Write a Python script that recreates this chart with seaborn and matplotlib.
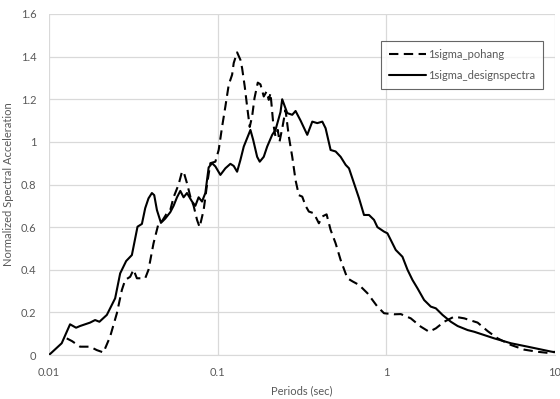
import matplotlib
matplotlib.use("Agg")
import matplotlib.pyplot as plt
import seaborn as sns
import pandas as pd
from matplotlib.ticker import FixedLocator, FixedFormatter, NullLocator

# ---- data ----
design_period = [0.0100, 0.01189, 0.01333, 0.01447, 0.01528, 0.01752, 0.01876, 0.0199,
                 0.02202, 0.02467, 0.02642, 0.02868, 0.0310, 0.03348, 0.03555, 0.03719,
                 0.0389, 0.04075, 0.04206, 0.04364, 0.0461, 0.04889, 0.05236, 0.05478,
                 0.0574, 0.06005, 0.06281, 0.06578, 0.07047, 0.07372, 0.0771, 0.08077,
                 0.08452, 0.08842, 0.09262, 0.09689, 0.1038, 0.1111, 0.119, 0.1245,
                 0.1304, 0.1364, 0.1428, 0.1564, 0.1623, 0.1714, 0.1776, 0.1876, 0.1966,
                 0.2105, 0.2202, 0.2358, 0.2413, 0.2585, 0.2768, 0.2896, 0.3101, 0.3398,
                 0.3639, 0.3896, 0.4173, 0.4364, 0.4673, 0.5004, 0.5358, 0.574, 0.6005,
                 0.643, 0.6885, 0.7372, 0.7894, 0.8452, 0.8853, 0.9689, 1.015, 1.062,
                 1.137, 1.246, 1.335, 1.429, 1.53, 1.675, 1.835, 1.966, 2.154, 2.413,
                 2.646, 3.034, 3.32, 4.364, 5.486, 6.892, 9.48, 10.0]
design_sa = [0.0, 0.055, 0.144, 0.128, 0.136, 0.152, 0.164, 0.156,
             0.188, 0.266, 0.383, 0.441, 0.469, 0.602, 0.615, 0.689,
             0.735, 0.76, 0.75, 0.68, 0.62, 0.64, 0.67, 0.70,
             0.74, 0.77, 0.74, 0.76, 0.72, 0.70, 0.74, 0.72,
             0.76, 0.88, 0.90, 0.885, 0.845, 0.876, 0.897, 0.887,
             0.86, 0.915, 0.978, 1.056, 1.01, 0.93, 0.907, 0.93, 0.978,
             1.033, 1.056, 1.14, 1.20, 1.135, 1.127, 1.145, 1.10, 1.033,
             1.095, 1.088, 1.095, 1.064, 0.962, 0.955, 0.93, 0.892, 0.876,
             0.806, 0.736, 0.657, 0.657, 0.634, 0.60, 0.579, 0.571, 0.54,
             0.493, 0.461, 0.40, 0.352, 0.313, 0.258, 0.227, 0.219, 0.188, 0.156,
             0.136, 0.117, 0.109, 0.078, 0.055, 0.039, 0.016, 0.013]

pohang_period = [0.01274, 0.0137, 0.01528, 0.01752, 0.0192, 0.02102, 0.02303, 0.02526,
                 0.02704, 0.02829, 0.03029, 0.03169, 0.0332, 0.03555, 0.03719, 0.0389,
                 0.04166, 0.04462, 0.04692, 0.04957, 0.05236, 0.05478, 0.05866, 0.06145,
                 0.06281, 0.06578, 0.06885, 0.07202, 0.07545, 0.07816, 0.08258, 0.0865,
                 0.0905, 0.09689, 0.1014, 0.1062, 0.1111, 0.1163, 0.1218, 0.1245, 0.1304,
                 0.1364, 0.1396, 0.1447, 0.1495, 0.1549, 0.1601, 0.1653, 0.1729, 0.1793,
                 0.1876, 0.1948, 0.2009, 0.2057, 0.2134, 0.2202, 0.2273, 0.2326, 0.2423,
                 0.2525, 0.2642, 0.2768, 0.2896, 0.3029, 0.3173, 0.332, 0.3473, 0.3719,
                 0.3982, 0.4173, 0.4424, 0.4673, 0.5004, 0.5358, 0.5875, 0.6316, 0.6885,
                 0.7723, 0.8853, 0.9689, 1.111, 1.218, 1.396, 1.601, 1.793, 1.966, 2.202,
                 2.526, 2.896, 3.477, 3.988, 4.573, 5.486, 6.58, 7.904, 9.06, 10.0]
pohang_sa = [0.078, 0.065, 0.039, 0.039, 0.023, 0.012, 0.086, 0.196,
             0.305, 0.352, 0.367, 0.40, 0.36, 0.36, 0.36, 0.40,
             0.524, 0.618, 0.63, 0.66, 0.68, 0.74, 0.80, 0.86,
             0.86, 0.806, 0.743, 0.70, 0.634, 0.60, 0.68, 0.80,
             0.90, 0.907, 0.962, 1.07, 1.166, 1.268, 1.315, 1.37, 1.42,
             1.385, 1.346, 1.26, 1.166, 1.07, 1.12, 1.205, 1.278, 1.27,
             1.213, 1.236, 1.197, 1.229, 1.088, 1.025, 1.056, 1.00, 1.07,
             1.15, 1.025, 0.93, 0.82, 0.75, 0.743, 0.70, 0.673, 0.665,
             0.618, 0.65, 0.66, 0.587, 0.524, 0.446, 0.36, 0.345, 0.329,
             0.29, 0.227, 0.196, 0.191, 0.192, 0.172, 0.133, 0.109, 0.125, 0.156,
             0.18, 0.172, 0.152, 0.112, 0.078, 0.047, 0.025, 0.015, 0.01, 0.015]

series_names = ["1sigma_pohang", "1sigma_designspectra"]
x_ticks = [0.01, 0.1, 1, 10]
x_tick_labels = ["0.01", "0.1", "1", "10"]
y_ticks = [0, 0.2, 0.4, 0.6, 0.8, 1.0, 1.2, 1.4, 1.6]
y_tick_labels = ["0", "0.2", "0.4", "0.6", "0.8", "1", "1.2", "1.4", "1.6"]

# ---- style ----
sns.set_style("white")
plt.rcParams['font.family'] = ['Lato', 'DejaVu Sans']

df_p = pd.DataFrame({"period": pohang_period, "sa": pohang_sa})
df_d = pd.DataFrame({"period": design_period, "sa": design_sa})

fig = plt.figure(figsize=(5.6, 3.99), dpi=100)
ax = fig.add_axes([49/560, 1 - 355/399, (555 - 49)/560, (355 - 14)/399])

grid_c = "#d9d9d9"
text_c = "#595959"
fs = 8

sns.lineplot(data=df_p, x="period", y="sa", ax=ax, sort=False, color="black",
             lw=1.5, label=series_names[0], estimator=None)
ax.lines[-1].set_dashes([4.5, 2.6])
sns.lineplot(data=df_d, x="period", y="sa", ax=ax, sort=False, color="black",
             lw=1.5, label=series_names[1], estimator=None)

ax.set_xscale("log")
ax.set_xlim(0.01, 10)
ax.set_ylim(0, 1.6)
ax.xaxis.set_major_locator(FixedLocator(x_ticks))
ax.xaxis.set_major_formatter(FixedFormatter(x_tick_labels))
ax.xaxis.set_minor_locator(NullLocator())
ax.set_yticks(y_ticks)
ax.set_yticklabels(y_tick_labels)

ax.grid(True, which="major", color=grid_c, lw=0.9)
ax.set_axisbelow(True)
for s in ax.spines.values():
    s.set_visible(False)
ax.spines["bottom"].set_visible(True)
ax.spines["bottom"].set_color(grid_c)

ax.tick_params(axis="both", length=0, labelsize=fs, colors=text_c)
ax.tick_params(axis="x", pad=9)
ax.tick_params(axis="y", pad=9)

ax.set_xlabel("Periods (sec)", fontsize=fs, color=text_c, labelpad=5)
ax.set_ylabel("Normalized Spectral Acceleration", fontsize=fs, color=text_c, labelpad=5)

leg = ax.legend(loc="upper right", bbox_to_anchor=((543 - 49)/506, (355 - 41)/341),
                fontsize=fs, frameon=True, fancybox=False, handlelength=3.3,
                handletextpad=0.2, borderpad=0.7, labelspacing=0.95, borderaxespad=0)
leg.get_frame().set_edgecolor("#404040")
leg.get_frame().set_linewidth(0.8)
for t in leg.get_texts():
    t.set_color(text_c)

fig.savefig("out.png", dpi=100)
